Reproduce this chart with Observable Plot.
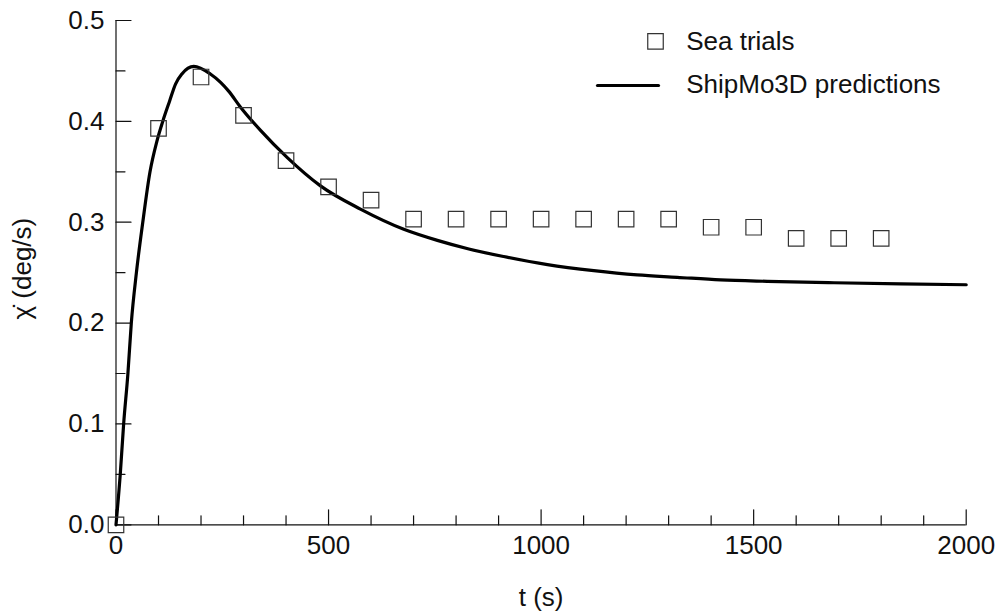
<!DOCTYPE html>
<html><head><meta charset="utf-8">
<script src="https://cdn.jsdelivr.net/npm/d3@7"></script>
<script src="https://cdn.jsdelivr.net/npm/@observablehq/plot@0.6"></script>
<style>body{margin:0;background:#fff}</style>
</head><body><div id="chart"></div>
<script>
// Sea trials (squares)
const trialT = [0, 100, 200, 300, 400, 500, 600, 700, 800, 900, 1000, 1100, 1200, 1300, 1400, 1500, 1600, 1700, 1800];
const trialV = [0, 0.393, 0.444, 0.406, 0.361, 0.335, 0.322, 0.303, 0.303, 0.303, 0.303, 0.303, 0.303, 0.303, 0.295, 0.295, 0.284, 0.284, 0.284];
// ShipMo3D predictions (line)
const predT = [0, 10, 18, 28, 36, 48, 63, 80, 96, 110, 126, 140, 155, 183, 222, 246, 265, 293, 340, 403, 481, 575, 677, 756, 830, 912, 1015, 1124, 1226, 1320, 1422, 1532, 1689, 1846, 2000];
const predV = [0, 0.05, 0.10, 0.15, 0.20, 0.25, 0.30, 0.35, 0.38, 0.40, 0.42, 0.437, 0.447, 0.4545, 0.447, 0.4387, 0.430, 0.414, 0.391, 0.364, 0.336, 0.313, 0.293, 0.282, 0.2735, 0.266, 0.258, 0.252, 0.2478, 0.2454, 0.2428, 0.2414, 0.240, 0.2389, 0.238];
// ticks
const xMajor = [0, 500, 1000, 1500, 2000];
const xMinor = [100, 200, 300, 400, 600, 700, 800, 900, 1100, 1200, 1300, 1400, 1600, 1700, 1800, 1900];
const yMajor = [0, 0.1, 0.2, 0.3, 0.4, 0.5];
const yMinor = [0.05, 0.15, 0.25, 0.35, 0.45];
const legendLabels = ["Sea trials", "ShipMo3D predictions"];
const xTitle = "t (s)";
const yTitle = "\u03C7\u0307 (deg/s)";

const trials = trialT.map((t, i) => ({t, v: trialV[i]}));
const pred = predT.map((t, i) => ({t, v: predV[i]}));
const tickShape = {draw(ctx, l) { ctx.moveTo(0, 0); ctx.lineTo(0, -l); }};
const ink = "#111";
const FS = 26;

const chart = Plot.plot({
  width: 1000,
  height: 615,
  marginTop: 20,
  marginLeft: 115.5,
  marginRight: 34.3,
  marginBottom: 90.7,
  style: {fontFamily: "'Liberation Sans', Arial, Helvetica, sans-serif", fontSize: FS + "px", background: "white", color: ink},
  x: {domain: [0, 2000], axis: null},
  y: {domain: [0, 0.5], axis: null},
  marks: [
    Plot.ruleY([0], {stroke: ink, strokeWidth: 1.2}),
    Plot.ruleX([0], {stroke: ink, strokeWidth: 1.2}),
    Plot.vector(xMajor, {x: d => d, y: 0, length: 15, rotate: 0, anchor: "start", shape: tickShape, stroke: ink, strokeWidth: 1.2}),
    Plot.vector(xMinor, {x: d => d, y: 0, length: 9, rotate: 0, anchor: "start", shape: tickShape, stroke: ink, strokeWidth: 1.2}),
    Plot.vector(yMajor, {x: 0, y: d => d, length: 15, rotate: 90, anchor: "start", shape: tickShape, stroke: ink, strokeWidth: 1.2}),
    Plot.vector(yMinor, {x: 0, y: d => d, length: 9, rotate: 90, anchor: "start", shape: tickShape, stroke: ink, strokeWidth: 1.2}),
    Plot.axisX(xMajor, {tickSize: 0, tickPadding: 10.5, tickFormat: d => String(d), label: null, fontSize: FS, fill: ink}),
    Plot.axisY(yMajor, {tickSize: 0, tickPadding: 11.5, tickFormat: d3.format(".1f"), label: null, fontSize: FS, fill: ink}),
    Plot.text([xTitle], {frameAnchor: "bottom", dy: 72.4, lineAnchor: "middle", textAnchor: "middle", text: d => d, fontSize: FS, fill: ink}),
    Plot.text([yTitle], {frameAnchor: "left", dx: -93.8, dy: -4, rotate: -90, lineAnchor: "middle", textAnchor: "middle", text: d => d, fontSize: FS, fill: ink}),
    Plot.line(pred, {x: "t", y: "v", stroke: "black", strokeWidth: 3.2, curve: "monotone-x"}),
    Plot.dot(trials, {x: "t", y: "v", symbol: "square", r: 8.75, stroke: "#333", strokeWidth: 1.2, fill: "none"}),
    // legend
    Plot.dot([legendLabels[0]], {frameAnchor: "top-left", dx: 539.5, dy: 20.8, symbol: "square", r: 8.75, stroke: "#333", strokeWidth: 1.2, fill: "none"}),
    Plot.text([legendLabels[0]], {frameAnchor: "top-left", dx: 570.2, dy: 21.5, lineAnchor: "middle", text: d => d, textAnchor: "start", fontSize: FS, fill: ink}),
    Plot.vector([legendLabels[1]], {frameAnchor: "top-left", dx: 481.5, dy: 65, length: 61, rotate: 90, anchor: "start", shape: tickShape, stroke: "black", strokeWidth: 3.2}),
    Plot.text([legendLabels[1]], {frameAnchor: "top-left", dx: 570.2, dy: 64.5, lineAnchor: "middle", text: d => d, textAnchor: "start", fontSize: FS, fill: ink})
  ]
});
document.getElementById("chart").appendChild(chart);
</script>
</body></html>
